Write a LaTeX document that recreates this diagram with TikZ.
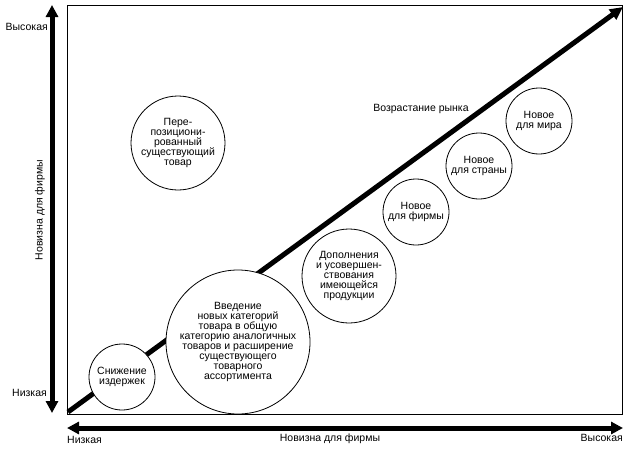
\documentclass[tikz,border=0pt]{standalone}
\usepackage{fontspec}
\setmainfont{Liberation Sans}
\usetikzlibrary{arrows.meta}

\begin{document}
\begin{tikzpicture}[x=1pt, y=-1pt,
    every node/.style = {font=\fontsize{10.5}{10}\selectfont},
    blob/.style = {shape=circle, draw, line width=0.8pt, fill=white, align=center, inner sep=0pt},
    axis/.style = {line width=5pt, {Triangle[length=12pt,width=12pt]}-{Triangle[length=12pt,width=12pt]}},
    growth/.style = {line width=5pt, -{Triangle[length=13pt,width=12pt]}}]
\useasboundingbox (0,0) rectangle (632,455);
% frame and axes
\draw[line width=0.8pt] (67,5) rectangle (622,414);
\coordinate (ytop) at (52,5);
\coordinate (ybot) at (52,413);
\coordinate (xleft) at (67,428);
\coordinate (xright) at (623,428);
\coordinate (origin) at (68,412);
\coordinate (far) at (623,7);
\draw[axis] (ybot) -- (ytop);
\draw[axis] (xleft) -- (xright);
\draw[growth] (origin) -- (far);
% axis labels
\node[anchor=east, inner sep=0pt] (yhigh) at (48,27) {Высокая};
\node[anchor=east, inner sep=0pt] (ylow) at (47,393) {Низкая};
\node[rotate=90, inner sep=0pt] (ytitle) at (40,210) {Новизна для фирмы};
\node[anchor=west, inner sep=0pt] (xlow) at (67,440) {Низкая};
\node[inner sep=0pt] (xtitle) at (330,439) {Новизна для фирмы};
\node[anchor=east, inner sep=0pt] (xhigh) at (623,438) {Высокая};
\node[inner sep=0pt] (market) at (421,109) {Возрастание рынка};
% circles
\node[blob, minimum size=66pt] (cost) at (122,377) {Снижение\\издержек};
\node[blob, minimum size=144pt] (intro) at (238,342) {Введение\\новых категорий\\товара в общую\\категорию аналогичных\\товаров и расширение\\существующего\\товарного\\ассортимента};
\node[blob, minimum size=94pt] (improve) at (349,276) {Дополнения\\и усовершен-\\ствования\\имеющейся\\продукции};
\node[blob, minimum size=66pt] (firm) at (416,212) {Новое\\для фирмы};
\node[blob, minimum size=66pt] (country) at (479,166) {Новое\\для страны};
\node[blob, minimum size=66pt] (world) at (539,121) {Новое\\для мира};
\node[blob, minimum size=94pt] (repos) at (178,143) {Пере-\\позициони-\\рованный\\существующий\\товар};
\end{tikzpicture}
\end{document}
